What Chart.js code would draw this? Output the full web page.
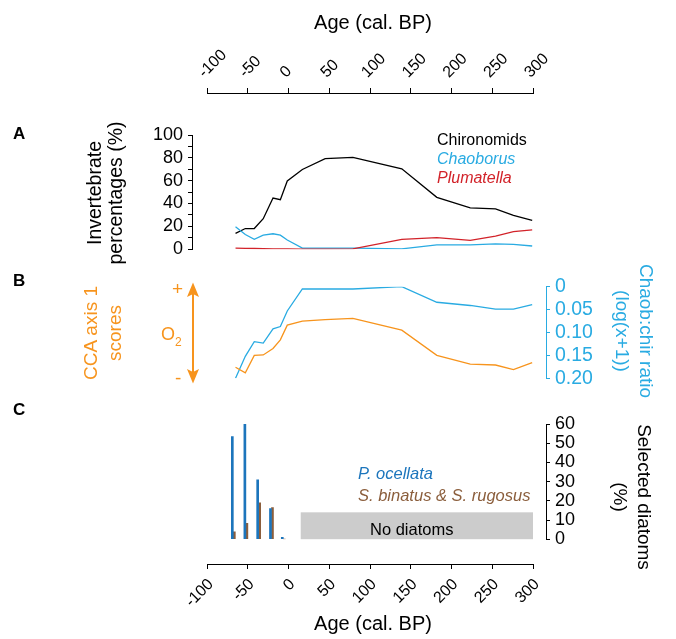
<!DOCTYPE html>
<html><head><meta charset="utf-8">
<script src="https://cdn.jsdelivr.net/npm/chart.js@4"></script>
<style>
body{margin:0;background:#fff;}
#wrap{position:relative;width:676px;height:639px;overflow:hidden;font-family:"Liberation Sans",Arial,sans-serif;color:#000;}
canvas{position:absolute;left:0;}
.t{position:absolute;white-space:nowrap;}
.rot{position:absolute;white-space:nowrap;text-align:center;}
</style></head><body>
<div id="wrap">
<canvas id="cTop" width="676" height="100" style="top:0;width:676px;height:100px"></canvas>
<canvas id="cA" width="676" height="150" style="top:115px;width:676px;height:150px"></canvas>
<canvas id="cB" width="676" height="125" style="top:270px;width:676px;height:125px"></canvas>
<canvas id="cC" width="676" height="150" style="top:405px;width:676px;height:150px"></canvas>
<canvas id="cBot" width="676" height="83" style="top:556px;width:676px;height:83px"></canvas>

<div class="t" style="left:373px;top:12px;font-size:20px;line-height:20px;transform:translateX(-50%)">Age (cal. BP)</div>
<div class="t" style="left:373px;top:613px;font-size:20px;line-height:20px;transform:translateX(-50%)">Age (cal. BP)</div>

<div class="t" style="left:13px;top:125px;font-size:17px;line-height:17px;font-weight:bold">A</div>
<div class="t" style="left:13px;top:272px;font-size:17px;line-height:17px;font-weight:bold">B</div>
<div class="t" style="left:13px;top:401px;font-size:17px;line-height:17px;font-weight:bold">C</div>

<div class="rot" style="left:105px;top:193px;font-size:19.5px;line-height:21px;transform:translate(-50%,-50%) rotate(-90deg)">Invertebrate<br>percentages (%)</div>
<div class="rot" style="left:103px;top:333px;font-size:19px;line-height:24px;color:#F7941D;transform:translate(-50%,-50%) rotate(-90deg)">CCA axis 1<br>scores</div>
<div class="rot" style="left:634px;top:331px;font-size:19px;line-height:24px;color:#29ABE2;transform:translate(-50%,-50%) rotate(90deg)">Chaob:chir ratio<br>(log(x+1))</div>
<div class="rot" style="left:632px;top:497px;font-size:19px;line-height:24px;transform:translate(-50%,-50%) rotate(90deg)">Selected diatoms<br>(%)</div>

<div class="t" style="left:437px;top:132px;font-size:16px;line-height:16px">Chironomids</div>
<div class="t" style="left:437px;top:151px;font-size:16px;line-height:16px;font-style:italic;color:#29ABE2">Chaoborus</div>
<div class="t" style="left:437px;top:170px;font-size:16px;line-height:16px;font-style:italic;color:#D2232A">Plumatella</div>

<div class="t" style="left:358px;top:465px;font-size:16.5px;line-height:16.5px;font-style:italic;color:#1C75BC">P. ocellata</div>
<div class="t" style="left:358px;top:487px;font-size:16.5px;line-height:16.5px;font-style:italic;color:#8B5E3C">S. binatus &amp; S. rugosus</div>
<div class="t" style="left:370px;top:521px;font-size:16.5px;line-height:16.5px">No diatoms</div>

<div class="t" style="left:172px;top:279px;font-size:19px;line-height:19px;color:#F7941D">+</div>
<div class="t" style="left:175px;top:368px;font-size:19px;line-height:19px;color:#F7941D">-</div>
<div class="t" style="left:161px;top:325px;font-size:18px;line-height:18px;color:#F7941D">O<span style="font-size:12px;position:relative;top:6px">2</span></div>
<svg style="position:absolute;left:180px;top:278px" width="30" height="110">
  <line x1="13" y1="14" x2="13" y2="96" stroke="#F7941D" stroke-width="2"/>
  <polygon points="13,4.5 19,19 13,16 7,19" fill="#F7941D"/>
  <polygon points="13,105.5 19,91 13,94 7,91" fill="#F7941D"/>
</svg>
</div>

<script>
// ---------------- data ----------------
const xTicks = [-100, -50, 0, 50, 100, 150, 200, 250, 300];

// Panel A: invertebrate percentages
const ageInvert   = [-65, -53, -42, -31, -19, -10, -1.5, 17, 45, 79, 139, 182, 223, 254, 276, 299];
const chironomids = [13.8, 18.1, 18.1, 26.7, 44.8, 43.4, 59.7, 69.8, 79.3, 80.4, 70.4, 45.4, 36.2, 35.3, 29.6, 25.3];
const chaoborus   = [19.6, 12.9, 8.6, 12.3, 13.5, 12.3, 8.0, 0.9, 0.9, 0.9, 0.3, 3.7, 3.7, 4.6, 4.3, 2.8];
const plumatella  = [1.0, 0.8, 0.6, 0.4, 0.3, 0.2, 0.2, 0.1, 0.1, 0.2, 8.6, 10.1, 7.8, 11.5, 15.3, 17.0];

// Panel B: CCA axis 1 scores and Chaob:chir ratio (log(x+1))
const ccaAxis1       = [-0.76, -0.88, -0.50, -0.49, -0.35, -0.16, 0.16, 0.25, 0.28, 0.31, 0.05, -0.50, -0.69, -0.71, -0.81, -0.66];
const chaobChirRatio = [0.200, 0.152, 0.120, 0.123, 0.092, 0.087, 0.053, 0.005, 0.005, 0.005, 0.000, 0.034, 0.041, 0.049, 0.049, 0.039];
const ratioTicks = [0, 0.05, 0.10, 0.15, 0.20];

// Panel C: selected diatoms (%)
const ageDiatom       = [-67.7, -52.3, -36.6, -20.9, -6.4];
const pOcellata       = [53.4, 60.0, 30.9, 16.0, 1.0];
const sBinatusRugosus = [3.8, 8.3, 18.9, 16.5, 0.0];
const noDiatomAges    = [15, 300];
const noDiatomTop     = 14;

// ---------------- layout ----------------
const FONT = '"Liberation Sans", Arial, sans-serif';
Chart.defaults.font.family = FONT;
const PX_M100 = 207, PX_300 = 533;      // pixel x of -100 and 300
const PANEL_L = 192, PANEL_R = 546;     // panel axis positions
const pxPerUnit = (PX_300 - PX_M100) / 400;
const xMinP = -100 - (PX_M100 - PANEL_L) / pxPerUnit;
const xMaxP = 300 + (PANEL_R - PX_300) / pxPerUnit;

const BLACK = '#000000', CBLUE = '#29ABE2', RED = '#D2232A', ORANGE = '#F7941D';
const DBLUE = '#1C75BC', BROWN = '#8B5E3C';

const base = {
  responsive: false, animation: false, devicePixelRatio: 1,
  plugins: { legend: { display: false }, tooltip: { enabled: false } },
  elements: { point: { radius: 0 }, line: { tension: 0, borderWidth: 1.3 } }
};
const pts = (xs, ys) => xs.map((x, i) => ({ x: x, y: ys[i] }));

// x axis: one scale draws line + tick marks, a second draws the rotated labels (nudged right)
function xAxisChart(id, position, padding, labelHeight, labelShiftPx) {
  const d = labelShiftPx / pxPerUnit;
  return new Chart(document.getElementById(id), {
    type: 'line', data: { datasets: [] },
    options: Object.assign({}, base, {
      layout: { padding: padding },
      scales: {
        x: {
          type: 'linear', position: position, min: -100, max: 300, weight: 0,
          afterBuildTicks(s) { s.ticks = xTicks.map(v => ({ value: v })); },
          afterFit(s) { s.height = 5; },
          ticks: { display: false, autoSkip: false },
          grid: { drawOnChartArea: false, tickLength: 5, color: BLACK, lineWidth: 1 },
          border: { color: BLACK, width: 1 }
        },
        xl: {
          type: 'linear', position: position, min: -100 - d, max: 300 - d, weight: 1,
          afterBuildTicks(s) { s.ticks = xTicks.map(v => ({ value: v })); },
          afterFit(s) { s.height = labelHeight; },
          ticks: { autoSkip: false, minRotation: 45, maxRotation: 45, font: { size: 16 }, color: BLACK, padding: 6 },
          grid: { display: false, drawTicks: false },
          border: { display: false }
        },
        y: { display: false }
      }
    })
  });
}
xAxisChart('cTop', 'top', { left: PX_M100, right: 676 - PX_300, top: 0, bottom: 0 }, 88, 8);
xAxisChart('cBot', 'bottom', { left: PX_M100, right: 676 - PX_300, top: 6, bottom: 0 }, 70, 4);

const hiddenX = () => ({ type: 'linear', display: false, min: xMinP, max: xMaxP, offset: false, grid: { offset: false } });

// Panel A
new Chart(document.getElementById('cA'), {
  type: 'line',
  data: { datasets: [
    { data: pts(ageInvert, plumatella), borderColor: RED },
    { data: pts(ageInvert, chaoborus), borderColor: CBLUE },
    { data: pts(ageInvert, chironomids), borderColor: BLACK }
  ] },
  options: Object.assign({}, base, {
    layout: { padding: { left: 0, right: 676 - PANEL_R, top: 20, bottom: 14 } },
    scales: {
      x: hiddenX(),
      y: {
        position: 'left', min: 0, max: 100,
        afterFit(s) { s.width = PANEL_L; },
        ticks: { stepSize: 10, autoSkip: false, callback: v => (v % 20 === 0 ? String(v) : ''), font: { size: 18 }, color: BLACK, padding: 5 },
        grid: { drawOnChartArea: false, tickLength: 4, color: BLACK },
        border: { color: BLACK, width: 1 }
      }
    }
  })
});

// Panel B
new Chart(document.getElementById('cB'), {
  type: 'line',
  data: { datasets: [
    { data: pts(ageInvert, ccaAxis1), borderColor: ORANGE, yAxisID: 'yCCA' },
    { data: pts(ageInvert, chaobChirRatio), borderColor: CBLUE, yAxisID: 'y' }
  ] },
  options: Object.assign({}, base, {
    layout: { padding: { left: PANEL_L, right: 0, top: 14, bottom: 13 } },
    scales: {
      x: hiddenX(),
      yCCA: { display: false, min: -1, max: 1 },
      y: {
        position: 'right', reverse: true, min: 0, max: 0.2,
        afterFit(s) { s.width = 676 - PANEL_R; },
        afterBuildTicks(s) { s.ticks = ratioTicks.map(v => ({ value: v })); },
        ticks: { autoSkip: false, callback: v => (v === 0 ? '0' : v.toFixed(2)), font: { size: 19.5 }, color: CBLUE, padding: 5 },
        grid: { drawOnChartArea: false, tickLength: 4, color: CBLUE },
        border: { color: CBLUE, width: 1 }
      }
    }
  })
});

// Panel C
const noDiatomBox = {
  id: 'noDiatomBox',
  beforeDatasetsDraw(chart) {
    const { ctx, scales: { x, y } } = chart;
    const x0 = x.getPixelForValue(noDiatomAges[0]), x1 = x.getPixelForValue(noDiatomAges[1]);
    const y0 = y.getPixelForValue(0), y1 = y.getPixelForValue(noDiatomTop);
    ctx.save();
    ctx.fillStyle = '#CCCCCC';
    ctx.fillRect(x0, y1, x1 - x0, y0 - y1);
    ctx.restore();
  }
};
new Chart(document.getElementById('cC'), {
  type: 'bar',
  data: { datasets: [
    { data: pts(ageDiatom, pOcellata), backgroundColor: DBLUE, barThickness: 2 },
    { data: pts(ageDiatom, sBinatusRugosus), backgroundColor: BROWN, barThickness: 2 }
  ] },
  plugins: [noDiatomBox],
  options: Object.assign({}, base, {
    layout: { padding: { left: PANEL_L, right: 0, top: 19, bottom: 11 } },
    scales: {
      x: hiddenX(),
      y: {
        position: 'right', min: 0, max: 60,
        afterFit(s) { s.width = 676 - PANEL_R; },
        ticks: { stepSize: 10, autoSkip: false, font: { size: 18 }, color: BLACK, padding: 5 },
        grid: { drawOnChartArea: false, tickLength: 4, color: BLACK },
        border: { color: BLACK, width: 1 }
      }
    }
  })
});
</script>
</body></html>
